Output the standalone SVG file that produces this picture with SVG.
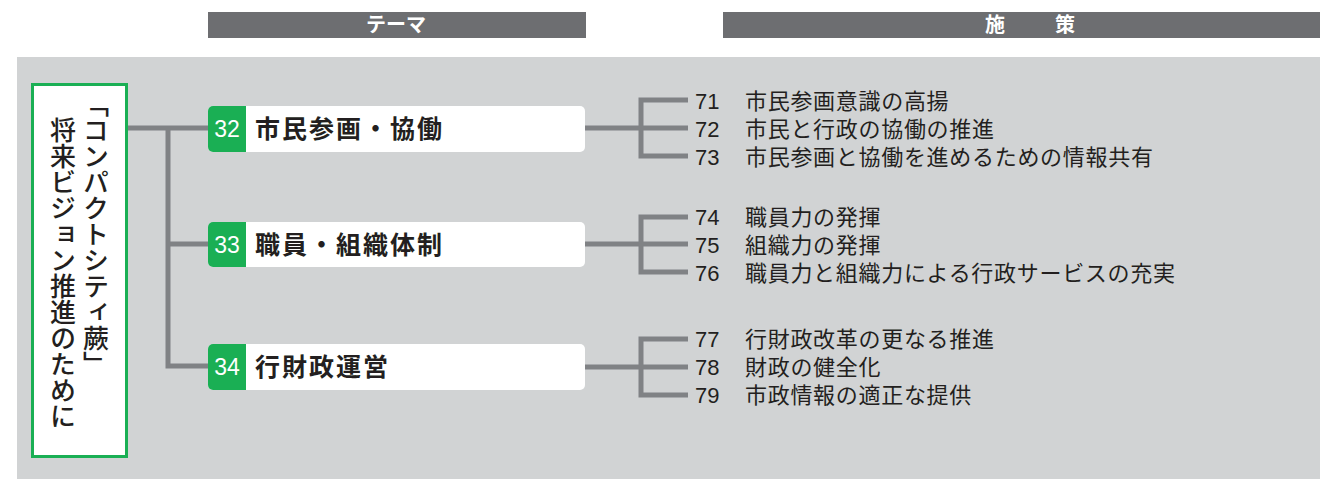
<svg xmlns="http://www.w3.org/2000/svg" width="1320" height="479" viewBox="0 0 1320 479">
<style>
.hdr{fill:#6d6e71}
.hdrt{fill:#ffffff;font-family:"Noto Sans CJK JP","Noto Sans",sans-serif;font-size:20px;font-weight:bold;text-anchor:middle}
.conn{fill:none;stroke:#808285;stroke-width:5}
.tbox{fill:#ffffff}
.tnum{fill:#1aaf54}
.tnumt{fill:#ffffff;font-family:"Liberation Sans",Arial,sans-serif;font-size:23px;text-anchor:middle}
.tt{fill:#231f20;font-family:"Noto Sans CJK JP",sans-serif;font-size:25px;font-weight:bold;letter-spacing:2px}
.inum{fill:#231f20;font-family:"Liberation Sans Narrow","Liberation Sans",sans-serif;font-size:22px}
.it{fill:#231f20;font-family:"Noto Sans CJK JP",sans-serif;font-size:22px;letter-spacing:0.7px}
.vt{fill:#231f20;font-family:"Noto Sans CJK JP",sans-serif;font-size:26px;font-weight:500;writing-mode:vertical-rl}
</style>
<rect x="0" y="0" width="1320" height="479" fill="#ffffff"/>
<g id="header-theme">
<rect class="hdr" x="208" y="12" width="378" height="26"/>
<text class="hdrt" x="396" y="32">テーマ</text>
</g>
<g id="header-measures">
<rect class="hdr" x="723" y="12" width="597" height="26"/>
<text class="hdrt" x="995" y="32">施</text>
<text class="hdrt" x="1065" y="32">策</text>
</g>
<rect x="17" y="57" width="1303" height="422" fill="#d1d3d4"/>
<g id="connectors">
<path class="conn" d="M128 128 H210 M168 128 V366 H210 M168 244 H210"/>
<path class="conn" d="M585 128 H688 M688 100 H641 V156 H688"/>
<path class="conn" d="M585 244 H688 M688 217 H641 V272 H688"/>
<path class="conn" d="M585 367 H688 M688 339 H641 V395 H688"/>
</g>
<g id="vision">
<rect x="32.5" y="84.5" width="94" height="372" fill="#ffffff" stroke="#1aaf54" stroke-width="3"/>
<text class="vt" x="96" y="91">「コンパクトシティ蕨」</text>
<text class="vt" x="63" y="117">将来ビジョン推進のために</text>
</g>
<g id="theme32">
<rect class="tbox" x="208" y="106" width="377" height="46" rx="5"/>
<path class="tnum" d="M246 106 H213 A5 5 0 0 0 208 111 V147 A5 5 0 0 0 213 152 H246 Z"/>
<text class="tnumt" x="227" y="137">32</text>
<text class="tt" x="255" y="138">市民参画・協働</text>
</g>
<g id="theme33">
<rect class="tbox" x="208" y="222" width="377" height="45" rx="5"/>
<path class="tnum" d="M246 222 H213 A5 5 0 0 0 208 227 V262 A5 5 0 0 0 213 267 H246 Z"/>
<text class="tnumt" x="227" y="253">33</text>
<text class="tt" x="255" y="254">職員・組織体制</text>
</g>
<g id="theme34">
<rect class="tbox" x="208" y="344" width="377" height="46" rx="5"/>
<path class="tnum" d="M246 344 H213 A5 5 0 0 0 208 349 V385 A5 5 0 0 0 213 390 H246 Z"/>
<text class="tnumt" x="227" y="375">34</text>
<text class="tt" x="255" y="376">行財政運営</text>
</g>
<g id="m71"><text class="inum" x="695" y="109">71</text><text class="it" x="745" y="109">市民参画意識の高揚</text></g>
<g id="m72"><text class="inum" x="695" y="137">72</text><text class="it" x="745" y="137">市民と行政の協働の推進</text></g>
<g id="m73"><text class="inum" x="695" y="165">73</text><text class="it" x="745" y="165">市民参画と協働を進めるための情報共有</text></g>
<g id="m74"><text class="inum" x="695" y="225">74</text><text class="it" x="745" y="225">職員力の発揮</text></g>
<g id="m75"><text class="inum" x="695" y="253">75</text><text class="it" x="745" y="253">組織力の発揮</text></g>
<g id="m76"><text class="inum" x="695" y="281">76</text><text class="it" x="745" y="281">職員力と組織力による行政サービスの充実</text></g>
<g id="m77"><text class="inum" x="695" y="347">77</text><text class="it" x="745" y="347">行財政改革の更なる推進</text></g>
<g id="m78"><text class="inum" x="695" y="375">78</text><text class="it" x="745" y="375">財政の健全化</text></g>
<g id="m79"><text class="inum" x="695" y="403">79</text><text class="it" x="745" y="403">市政情報の適正な提供</text></g>
</svg>
